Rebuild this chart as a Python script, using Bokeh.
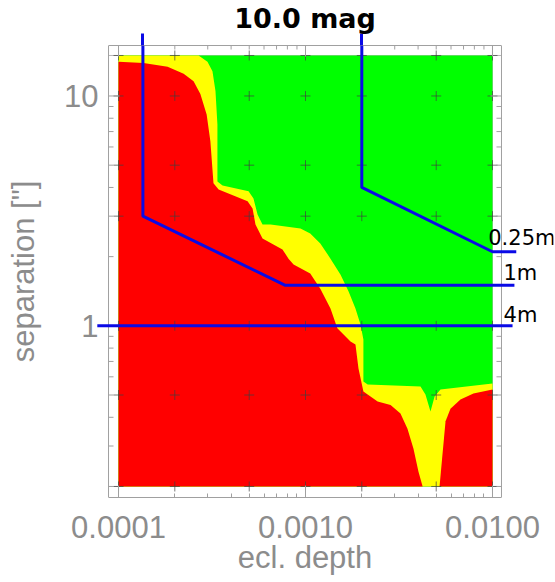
from bokeh.plotting import figure
from bokeh.models import (Range1d, LogAxis, FixedTicker, PrintfTickFormatter, Label)
from bokeh.embed import file_html
from bokeh.resources import INLINE

# ---------------- data ----------------
depth_min, depth_max = 1e-4, 1e-2
sep_min, sep_max = 0.2, 15.0

# red / yellow boundary (main red region, upper-left to bottom)
red_edge_depth = [1.00e-4, 1.36e-4, 1.83e-4, 2.23e-4, 2.52e-4, 2.74e-4, 2.96e-4, 3.10e-4,
                  3.22e-4, 3.43e-4, 4.90e-4, 5.21e-4, 5.40e-4, 5.89e-4, 7.53e-4, 8.11e-4,
                  8.63e-4, 1.06e-3, 1.20e-3, 1.36e-3, 1.48e-3, 1.74e-3, 1.85e-3, 1.92e-3,
                  2.04e-3, 2.15e-3, 2.43e-3, 2.85e-3, 3.22e-3, 3.51e-3, 3.78e-3, 4.02e-3,
                  4.23e-3]
red_edge_sep = [14.1, 13.9, 13.4, 12.5, 11.6, 10.2, 8.31, 6.34,
                4.17, 3.92, 3.48, 3.24, 2.76, 2.40, 2.15, 1.96,
                1.85, 1.69, 1.45, 1.19, 0.975, 0.855, 0.830, 0.652,
                0.518, 0.502, 0.469, 0.452, 0.415, 0.357, 0.292, 0.232,
                0.2]

# small red region at the lower right
red_tail_depth = [5.21e-3, 5.40e-3, 5.61e-3, 5.96e-3, 6.74e-3, 7.91e-3, 1.0e-2]
red_tail_sep = [0.2, 0.275, 0.384, 0.436, 0.478, 0.508, 0.528]

# yellow / green boundary
yellow_edge_depth = [2.68e-4, 2.99e-4, 3.18e-4, 3.30e-4, 3.38e-4, 3.38e-4, 3.60e-4, 4.96e-4,
                     5.27e-4, 5.54e-4, 5.89e-4, 6.50e-4, 9.40e-4, 1.06e-3, 1.20e-3, 1.36e-3,
                     1.54e-3, 1.70e-3, 1.85e-3, 1.97e-3, 2.04e-3, 2.04e-3, 2.15e-3, 4.12e-3,
                     4.38e-3, 4.66e-3, 4.90e-3, 5.27e-3, 1.0e-2]
yellow_edge_sep = [15.0, 14.1, 12.8, 10.5, 7.52, 4.25, 4.08, 3.85,
                   3.58, 3.05, 2.76, 2.76, 2.65, 2.52, 2.28, 1.96,
                   1.67, 1.41, 1.19, 1.01, 0.873, 0.573, 0.556, 0.545,
                   0.502, 0.424, 0.493, 0.528, 0.561]

# grid of computed points (crosses)
grid_depth = [1e-4, 2e-4, 5e-4, 1e-3, 2e-3, 5e-3, 1e-2]
grid_sep = [0.2, 0.5, 1.0, 3.0, 5.0, 10.0, 15.0]

# blue limit lines
line_labels = ["0.25m", "1m", "4m"]
line_025_depth = [2.0e-3, 2.0e-3, 1.0e-2, 1.34e-2]
line_025_sep = [18.7, 4.0, 2.1, 2.1]
line_1_depth = [1.35e-4, 1.35e-4, 7.8e-4, 1.31e-2]
line_1_sep = [18.7, 3.0, 1.5, 1.5]
line_4_depth = [7.7e-5, 1.28e-2]
line_4_sep = [1.0, 1.0]

x_major = [1e-4, 1e-3, 1e-2]
y_major = [1.0, 10.0]
x_minor = [m * 10.0 ** e for e in (-4, -3) for m in range(2, 10)]
y_minor = [m * 10.0 ** e for e in (-1, 0) for m in range(2, 10)]

# ---------------- scale geometry ----------------
XPD, YPD = 187.0, 229.8          # pixels per decade
box_x0, box_x1 = 8.841e-5, 1.1171e-2   # plot box (axes frame of the original)
box_y0, box_y1 = 0.1791, 16.58


def xshift(x, px):
    return x * 10 ** (px / XPD)


def yshift(y, px):
    return y * 10 ** (px / YPD)


# ---------------- figure ----------------
p = figure(frame_width=497, frame_height=452, x_axis_type="log", y_axis_type="log",
           x_range=Range1d(4.659e-5, 2.1196e-2), y_range=Range1d(box_y0, box_y1),
           output_backend="svg", toolbar_location=None,
           min_border_left=56, min_border_right=2, min_border_top=44, min_border_bottom=86,
           title="10.0 mag")
p.grid.visible = False
p.outline_line_color = None
p.background_fill_color = "white"

p.title.text_font = "DejaVu Sans"
p.title.text_font_size = "27px"
p.title.text_font_style = "bold"
p.title.text_color = "black"
p.title.align = "center"
p.title.standoff = 0

gray = "#a0a0a0"
light = "#b8b8b8"
text_gray = "#8c8c8c"

# extent lines of computed domain (inside the box)
p.segment(x0=[depth_min, depth_max, box_x0, box_x0], y0=[box_y0, box_y0, sep_min, sep_max],
          x1=[depth_min, depth_max, box_x1, box_x1], y1=[box_y1, box_y1, sep_min, sep_max],
          line_color=light, line_width=1)

# green background of domain
p.quad(left=[depth_min], right=[depth_max], bottom=[sep_min], top=[sep_max],
       fill_color="#00ff00", line_color=None)

# yellow region
yx = [depth_min, depth_min] + yellow_edge_depth + [depth_max]
yy = [sep_min, sep_max] + yellow_edge_sep + [sep_min]
p.patch(yx, yy, fill_color="#ffff00", line_color=None)

# red regions
p.patch([depth_min] + red_edge_depth, [sep_min] + red_edge_sep,
        fill_color="#ff0000", line_color=None)
p.patch(red_tail_depth + [depth_max], red_tail_sep + [sep_min],
        fill_color="#ff0000", line_color=None)

# grid crosses
gx = [x for y in grid_sep for x in grid_depth]
gy = [y for y in grid_sep for x in grid_depth]
p.scatter(gx, gy, marker="cross", size=10, line_color="#404040", line_alpha=0.7, line_width=1)

# left / right box edges
p.segment(x0=[box_x0, box_x1], y0=[box_y0, box_y0], x1=[box_x0, box_x1], y1=[box_y1, box_y1],
          line_color=gray, line_width=1)

# box ticks on left, right and top edges (pointing inwards)
ty_all = y_major + y_minor
tlen_y = [11] * len(y_major) + [5] * len(y_minor)
p.segment(x0=[box_x0] * len(ty_all), y0=ty_all,
          x1=[xshift(box_x0, L) for L in tlen_y], y1=ty_all, line_color=gray, line_width=1)
p.segment(x0=[box_x1] * len(ty_all), y0=ty_all,
          x1=[xshift(box_x1, -L) for L in tlen_y], y1=ty_all, line_color=gray, line_width=1)
tx_all = x_major + x_minor
tlen_x = [11] * len(x_major) + [4] * len(x_minor)
p.segment(x0=tx_all, y0=[box_y1] * len(tx_all),
          x1=tx_all, y1=[yshift(box_y1, -L) for L in tlen_x], line_color=gray, line_width=1)

# blue lines and their labels
blue = "#0a0ae6"
label_offsets = [(-28, 14), (-11, 12), (-9, 11)]
for (xs, ys), txt, (dx, dy) in zip([(line_025_depth, line_025_sep), (line_1_depth, line_1_sep),
                                    (line_4_depth, line_4_sep)], line_labels, label_offsets):
    p.line(xs, ys, line_color=blue, line_width=3)
    p.add_layout(Label(x=xs[-1], y=ys[-1], x_offset=dx, y_offset=dy, text=txt,
                       text_font="DejaVu Sans", text_font_size="21px", text_color="black",
                       text_baseline="alphabetic"))

# ---------------- axes ----------------
# top axis: box top line + blue line stubs above the box
top = LogAxis(ticker=FixedTicker(ticks=[], minor_ticks=[line_1_depth[0], line_025_depth[0]]),
              bounds=(box_x0, box_x1))
top.axis_line_color = gray
top.major_tick_in = 0
top.major_tick_out = 12
top.minor_tick_in = 0
top.minor_tick_out = 12
top.minor_tick_line_color = blue
top.minor_tick_line_width = 3
top.major_label_standoff = 0
p.add_layout(top, "above")

bx = p.below[0]
bx.ticker = FixedTicker(ticks=x_major, minor_ticks=x_minor)
bx.formatter = PrintfTickFormatter(format="%.4f")
bx.bounds = (box_x0, box_x1)
bx.axis_line_color = gray
bx.major_tick_line_color = gray
bx.minor_tick_line_color = gray
bx.major_tick_in = 12
bx.major_tick_out = 0
bx.minor_tick_in = 4
bx.minor_tick_out = 0
bx.major_label_standoff = 18
bx.axis_label = "ecl. depth"
bx.axis_label_standoff = -1

ly = p.left[0]
ly.ticker = FixedTicker(ticks=y_major, minor_ticks=y_minor)
ly.formatter = PrintfTickFormatter(format="%d")
ly.axis_line_color = None
ly.major_tick_line_color = None
ly.minor_tick_line_color = None
ly.major_tick_in = 0
ly.major_tick_out = 0
ly.minor_tick_in = 0
ly.minor_tick_out = 0
ly.major_label_standoff = -42
ly.axis_label = 'separation ["]'
ly.axis_label_standoff = 20

for ax in (bx, ly):
    ax.major_label_text_font = "Liberation Sans"
    ax.major_label_text_font_size = "31px"
    ax.major_label_text_color = text_gray
    ax.axis_label_text_font = "Liberation Sans"
    ax.axis_label_text_font_size = "31px"
    ax.axis_label_text_color = text_gray
    ax.axis_label_text_font_style = "normal"

open("out.html", "w").write(file_html(p, INLINE))
